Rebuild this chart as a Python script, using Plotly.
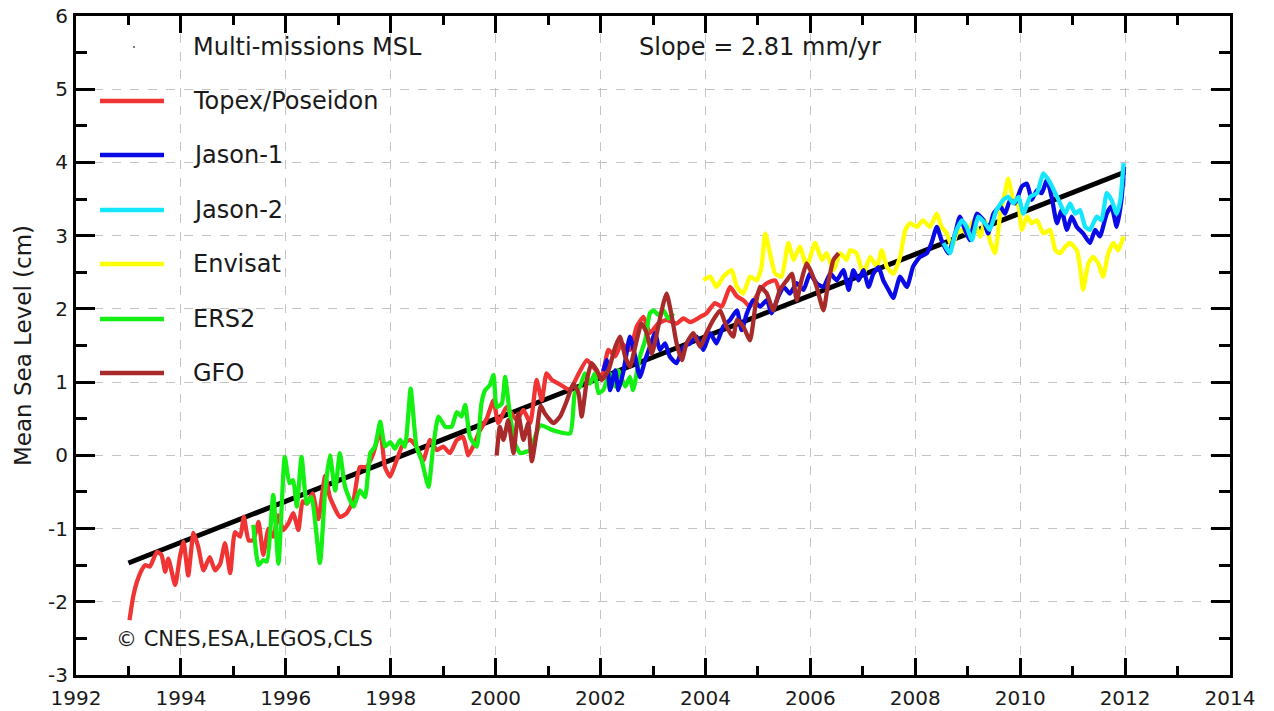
import plotly.graph_objects as go

# ---------------- data ----------------
trend_x = [1993.0, 2012.0]
trend_y = [-1.47, 3.87]

topex_x = [1993.02, 1993.09, 1993.16, 1993.25, 1993.32, 1993.41, 1993.54, 1993.63, 1993.70, 1993.76,
           1993.89, 1993.98, 1994.05, 1994.14, 1994.24, 1994.33, 1994.43, 1994.55, 1994.65, 1994.75,
           1994.84, 1994.94, 1995.03, 1995.13, 1995.20, 1995.29, 1995.38, 1995.48, 1995.57, 1995.67,
           1995.76, 1995.86, 1995.95, 1996.05, 1996.14, 1996.24, 1996.32, 1996.40, 1996.51, 1996.62,
           1996.75, 1996.84, 1997.03, 1997.16, 1997.29, 1997.41, 1997.54, 1997.67, 1997.80, 1997.89,
           1997.99, 1998.11, 1998.24, 1998.37, 1998.49, 1998.62, 1998.75, 1998.88, 1999.00, 1999.13,
           1999.26, 1999.38, 1999.48, 1999.57, 1999.70, 1999.83, 1999.96, 2000.05, 2000.21, 2000.40,
           2000.53, 2000.66, 2000.78, 2000.88, 2000.97, 2001.07, 2001.20, 2001.29, 2001.42, 2001.55,
           2001.74, 2001.86, 2002.02, 2002.15, 2002.28, 2002.40, 2002.56, 2002.69, 2002.82, 2002.94,
           2003.10, 2003.26, 2003.45, 2003.58, 2003.71, 2003.90, 2004.02, 2004.18, 2004.31, 2004.47,
           2004.60, 2004.72, 2004.85, 2005.04, 2005.17, 2005.33, 2005.42]
topex_y = [-2.25, -1.93, -1.73, -1.57, -1.50, -1.52, -1.32, -1.36, -1.59, -1.41,
           -1.77, -1.39, -1.18, -1.64, -1.06, -1.25, -1.57, -1.39, -1.57, -1.48,
           -1.20, -1.61, -1.05, -1.11, -0.84, -1.16, -1.16, -0.91, -1.36, -1.00,
           -1.11, -0.82, -1.02, -0.93, -0.79, -1.02, -0.63, -0.66, -0.52, -0.87,
           -0.28, -0.57, -0.84, -0.79, -0.61, -0.16, -0.16, 0.03, 0.34, -0.16,
           -0.29, -0.07, 0.16, 0.21, 0.12, -0.07, 0.21, 0.07, 0.12, 0.03,
           0.21, 0.25, 0.00, 0.12, 0.34, 0.50, 0.75, 0.44, 0.66, 0.48,
           0.62, 0.44, 1.03, 0.75, 1.12, 1.03, 0.98, 0.94, 0.89, 1.07,
           1.30, 1.21, 1.07, 1.44, 1.35, 1.53, 1.44, 1.76, 1.89, 1.67,
           1.80, 1.85, 1.80, 1.87, 1.82, 1.89, 1.94, 2.08, 2.03, 2.30,
           2.17, 2.12, 2.03, 2.26, 2.35, 2.39, 2.21]

ers2_x = [1995.38, 1995.48, 1995.57, 1995.64, 1995.76, 1995.86, 1995.98, 1996.07, 1996.14, 1996.21,
          1996.30, 1996.40, 1996.49, 1996.65, 1996.75, 1996.84, 1996.94, 1997.03, 1997.13, 1997.29,
          1997.41, 1997.51, 1997.61, 1997.70, 1997.80, 1997.89, 1997.99, 1998.08, 1998.18, 1998.27,
          1998.38, 1998.49, 1998.59, 1998.72, 1998.81, 1998.91, 1999.04, 1999.16, 1999.26, 1999.35,
          1999.42, 1999.51, 1999.64, 1999.73, 1999.80, 1999.89, 1999.96, 2000.02, 2000.12, 2000.18,
          2000.27, 2000.37, 2000.47, 2000.59, 2000.66, 2000.85, 2001.10, 2001.42, 2001.51, 2001.61,
          2001.70, 2001.80, 2001.89, 2001.96, 2002.05, 2002.18, 2002.28, 2002.34, 2002.47, 2002.56,
          2002.62, 2002.75, 2002.85, 2002.94, 2003.01, 2003.10, 2003.20, 2003.29, 2003.39]
ers2_y = [-0.95, -1.50, -1.43, -1.45, -0.54, -1.48, -0.02, -0.38, -0.34, -0.70,
          -0.02, -0.66, -0.57, -1.47, -0.48, 0.00, -0.48, 0.03, -0.43, -0.70,
          -0.48, -0.57, 0.03, 0.12, 0.46, 0.12, 0.18, 0.09, 0.21, 0.12,
          0.91, 0.12, -0.07, -0.43, 0.12, 0.53, 0.39, 0.39, 0.59, 0.53,
          0.69, 0.25, 0.12, 0.71, 0.89, 0.96, 1.10, 0.66, 0.71, 1.07,
          0.57, 0.16, 0.03, 0.05, 0.07, 0.41, 0.34, 0.30, 0.85, 0.94,
          1.12, 0.98, 1.12, 0.85, 0.89, 1.12, 0.94, 1.16, 0.94, 1.07,
          0.89, 1.35, 1.57, 1.94, 1.98, 1.92, 1.98, 1.87, 1.94]

gfo_x = [2000.02, 2000.08, 2000.15, 2000.24, 2000.34, 2000.43, 2000.53, 2000.62, 2000.69, 2000.78,
         2000.86, 2000.94, 2001.10, 2001.23, 2001.36, 2001.48, 2001.58, 2001.64, 2001.74, 2001.83,
         2001.93, 2002.02, 2002.15, 2002.28, 2002.37, 2002.47, 2002.56, 2002.66, 2002.78, 2002.88,
         2002.98, 2003.10, 2003.20, 2003.26, 2003.36, 2003.45, 2003.55, 2003.64, 2003.77, 2003.90,
         2004.02, 2004.15, 2004.28, 2004.40, 2004.53, 2004.60, 2004.72, 2004.85, 2004.95, 2005.04,
         2005.17, 2005.29, 2005.42, 2005.55, 2005.65, 2005.74, 2005.83, 2005.93, 2006.03, 2006.12,
         2006.25, 2006.34, 2006.44, 2006.54]
gfo_y = [0.00, 0.39, 0.21, 0.48, 0.03, 0.57, 0.21, 0.44, -0.08, 0.30,
         0.68, 0.57, 0.44, 0.53, 0.75, 0.98, 0.85, 0.53, 1.03, 1.26,
         1.16, 1.03, 1.16, 1.48, 1.62, 1.35, 1.21, 1.48, 1.80, 1.67,
         1.39, 1.76, 2.08, 2.21, 1.89, 1.53, 1.30, 1.53, 1.67, 1.48,
         1.67, 1.85, 1.98, 1.76, 1.62, 1.85, 1.76, 1.57, 2.03, 2.30,
         2.21, 1.98, 2.26, 2.39, 2.48, 2.12, 2.39, 2.62, 2.48, 2.30,
         1.98, 2.35, 2.67, 2.76]

jason1_x = [2002.05, 2002.12, 2002.18, 2002.28, 2002.34, 2002.44, 2002.56, 2002.66, 2002.75, 2002.85,
            2002.94, 2003.04, 2003.13, 2003.23, 2003.32, 2003.45, 2003.58, 2003.71, 2003.83, 2003.96,
            2004.09, 2004.21, 2004.34, 2004.47, 2004.60, 2004.69, 2004.79, 2004.91, 2005.04, 2005.17,
            2005.26, 2005.39, 2005.49, 2005.61, 2005.74, 2005.87, 2005.99, 2006.12, 2006.25, 2006.38,
            2006.50, 2006.63, 2006.73, 2006.82, 2006.92, 2007.01, 2007.11, 2007.20, 2007.30, 2007.39,
            2007.49, 2007.58, 2007.71, 2007.84, 2007.96, 2008.09, 2008.22, 2008.31, 2008.41, 2008.50,
            2008.63, 2008.76, 2008.85, 2008.95, 2009.04, 2009.17, 2009.30, 2009.39, 2009.49, 2009.62,
            2009.71, 2009.81, 2009.90, 2010.03, 2010.13, 2010.22, 2010.32, 2010.41, 2010.51, 2010.60,
            2010.70, 2010.79, 2010.89, 2010.98, 2011.08, 2011.20, 2011.33, 2011.43, 2011.52, 2011.65,
            2011.74, 2011.84, 2011.93, 2011.98]
jason1_y = [1.15, 1.30, 0.89, 1.16, 0.89, 1.16, 1.62, 1.35, 1.07, 1.30,
            1.48, 1.67, 1.44, 1.53, 1.35, 1.26, 1.48, 1.53, 1.62, 1.44,
            1.67, 1.53, 1.76, 1.85, 1.98, 1.71, 1.94, 2.12, 2.03, 2.12,
            1.94, 2.17, 2.30, 2.21, 2.35, 2.26, 2.48, 2.35, 2.30, 2.48,
            2.39, 2.53, 2.26, 2.53, 2.39, 2.53, 2.30, 2.48, 2.57, 2.39,
            2.26, 2.15, 2.44, 2.30, 2.58, 2.71, 2.76, 2.90, 3.12, 2.94,
            2.76, 3.03, 3.26, 3.08, 2.94, 3.30, 3.21, 3.03, 3.30, 3.40,
            3.30, 3.49, 3.44, 3.67, 3.71, 3.49, 3.62, 3.58, 3.76, 3.53,
            3.17, 3.35, 3.08, 3.26, 3.12, 3.03, 2.90, 3.08, 2.99, 3.30,
            3.40, 3.12, 3.49, 3.94]

jason2_x = [2008.54, 2008.66, 2008.76, 2008.89, 2008.98, 2009.08, 2009.20, 2009.33, 2009.42, 2009.55,
            2009.68, 2009.77, 2009.87, 2009.97, 2010.06, 2010.19, 2010.32, 2010.44, 2010.54, 2010.67,
            2010.76, 2010.86, 2010.95, 2011.05, 2011.14, 2011.24, 2011.33, 2011.46, 2011.55, 2011.65,
            2011.74, 2011.84, 2011.91, 2011.97]
jason2_y = [2.90, 2.76, 3.03, 3.21, 3.12, 2.94, 3.26, 3.17, 3.08, 3.35,
            3.49, 3.53, 3.44, 3.53, 3.30, 3.53, 3.58, 3.85, 3.76, 3.58,
            3.44, 3.30, 3.44, 3.30, 3.35, 3.12, 3.08, 3.26, 3.21, 3.58,
            3.49, 3.30, 3.49, 3.99]

envisat_x = [2003.96, 2004.09, 2004.21, 2004.34, 2004.50, 2004.60, 2004.72, 2004.85, 2004.98, 2005.07,
             2005.14, 2005.23, 2005.33, 2005.45, 2005.58, 2005.68, 2005.80, 2005.93, 2006.09, 2006.22,
             2006.31, 2006.44, 2006.57, 2006.69, 2006.76, 2006.88, 2007.01, 2007.14, 2007.27, 2007.36,
             2007.46, 2007.58, 2007.71, 2007.81, 2007.90, 2008.03, 2008.15, 2008.28, 2008.41, 2008.50,
             2008.60, 2008.70, 2008.79, 2008.89, 2008.98, 2009.11, 2009.24, 2009.33, 2009.42, 2009.52,
             2009.62, 2009.71, 2009.77, 2009.87, 2009.97, 2010.03, 2010.13, 2010.22, 2010.32, 2010.44,
             2010.57, 2010.67, 2010.76, 2010.86, 2010.95, 2011.08, 2011.14, 2011.20, 2011.30, 2011.39,
             2011.49, 2011.58, 2011.68, 2011.78, 2011.87, 2011.97]
envisat_y = [2.39, 2.44, 2.30, 2.44, 2.53, 2.30, 2.21, 2.44, 2.39, 2.58,
             3.03, 2.76, 2.48, 2.44, 2.90, 2.67, 2.85, 2.58, 2.90, 2.67,
             2.76, 2.53, 2.76, 2.67, 2.80, 2.76, 2.48, 2.71, 2.57, 2.80,
             2.57, 2.48, 2.71, 3.08, 3.17, 3.12, 3.21, 3.12, 3.30, 3.12,
             3.03, 2.85, 3.03, 3.08, 3.03, 3.21, 2.99, 3.21, 2.94, 2.76,
             3.30, 3.58, 3.78, 3.49, 3.40, 3.08, 3.26, 3.17, 3.21, 3.03,
             3.08, 2.80, 2.76, 2.85, 2.90, 2.80, 2.58, 2.26, 2.62, 2.71,
             2.62, 2.44, 2.76, 2.90, 2.80, 2.99]

legend_names = ["Multi-missions MSL", "Topex/Poseidon", "Jason-1", "Jason-2", "Envisat", "ERS2", "GFO"]
legend_colors = ["#000000", "#f03434", "#0a0ae6", "#14e6ff", "#ffff00", "#14f014", "#a82a2a"]

x_ticks = [1992, 1994, 1996, 1998, 2000, 2002, 2004, 2006, 2008, 2010, 2012, 2014]
y_ticks = [-3, -2, -1, 0, 1, 2, 3, 4, 5, 6]

FONT = "DejaVu Sans"
TXT = "#1a1a1a"

fig = go.Figure()

fig.add_trace(go.Scatter(x=trend_x, y=trend_y, mode="lines",
                         line=dict(color="#000000", width=5), showlegend=False))

series = [
    ("Topex/Poseidon", topex_x, topex_y, legend_colors[1]),
    ("ERS2", ers2_x, ers2_y, legend_colors[5]),
    ("Envisat", envisat_x, envisat_y, legend_colors[4]),
    ("Jason-1", jason1_x, jason1_y, legend_colors[2]),
    ("Jason-2", jason2_x, jason2_y, legend_colors[3]),
    ("GFO", gfo_x, gfo_y, legend_colors[6]),
]
for name, xs, ys, col in series:
    fig.add_trace(go.Scatter(x=xs, y=ys, mode="lines", name=name,
                             line=dict(color=col, width=4.3, shape="spline", smoothing=0.5),
                             showlegend=False))

# ---- manual legend (layout decorations) ----
shapes = []
annotations = []
plot_w, plot_h = 1154.0, 659.0
row_px = [31, 85, 139, 194, 248, 303, 357]  # px below plot top
for i, (name, col) in enumerate(zip(legend_names, legend_colors)):
    yp = 1 - row_px[i] / plot_h
    if i == 0:
        shapes.append(dict(type="circle", xref="paper", yref="paper",
                           xsizemode="pixel", ysizemode="pixel",
                           xanchor=58 / plot_w, yanchor=yp,
                           x0=-1, x1=1, y0=-1, y1=1,
                           fillcolor="#555555", line=dict(width=0)))
    else:
        shapes.append(dict(type="line", xref="paper", yref="paper",
                           x0=24 / plot_w, x1=88 / plot_w, y0=yp, y1=yp,
                           line=dict(color=col, width=4.5)))
    annotations.append(dict(text=name, xref="paper", yref="paper",
                            x=115 / plot_w, y=yp, xanchor="left", yanchor="middle",
                            showarrow=False, font=dict(family=FONT, size=24, color=TXT)))

annotations.append(dict(text="Slope = 2.81 mm/yr", xref="paper", yref="paper",
                        x=684 / plot_w, y=1 - 31 / plot_h, xanchor="center", yanchor="middle",
                        showarrow=False, font=dict(family=FONT, size=24, color=TXT)))
annotations.append(dict(text="© CNES,ESA,LEGOS,CLS", xref="paper", yref="paper",
                        x=38 / plot_w, y=1 - 623 / plot_h, xanchor="left", yanchor="middle",
                        showarrow=False, font=dict(family=FONT, size=21, color=TXT)))

axis_common = dict(showline=True, linecolor="#000000", linewidth=3, mirror="allticks",
                   ticks="inside", tickcolor="#000000", tickwidth=3, automargin=False,
                   showgrid=True, gridcolor="#c4c4c4", griddash="dash", gridwidth=1,
                   zeroline=False, tickfont=dict(family=FONT, size=20, color=TXT))

fig.update_xaxes(range=[1992, 2014], tickvals=x_ticks, ticktext=[str(v) for v in x_ticks],
                 ticklen=17, ticklabelstandoff=3,
                 minor=dict(dtick=1, tick0=1992, ticks="inside", ticklen=9, tickwidth=3,
                            tickcolor="#000000", showgrid=False),
                 **axis_common)
fig.update_yaxes(range=[-3, 6], tickvals=y_ticks, ticktext=[str(v) for v in y_ticks],
                 ticklen=19, ticklabelstandoff=1,
                 minor=dict(dtick=0.5, tick0=0, ticks="inside", ticklen=11, tickwidth=3,
                            tickcolor="#000000", showgrid=False),
                 title=dict(text="Mean Sea Level (cm)", font=dict(family=FONT, size=23, color=TXT),
                            standoff=10),
                 **axis_common)

fig.update_layout(template="none", width=1274, height=711, autosize=False,
                  margin=dict(l=76, r=44, t=16, b=36, autoexpand=False),
                  paper_bgcolor="#ffffff", plot_bgcolor="#ffffff",
                  shapes=shapes, annotations=annotations,
                  font=dict(family=FONT, color=TXT))

fig.write_html("out.html", config={"displayModeBar": False},
               post_script="document.body.style.margin='0';document.body.style.overflow='hidden';")
